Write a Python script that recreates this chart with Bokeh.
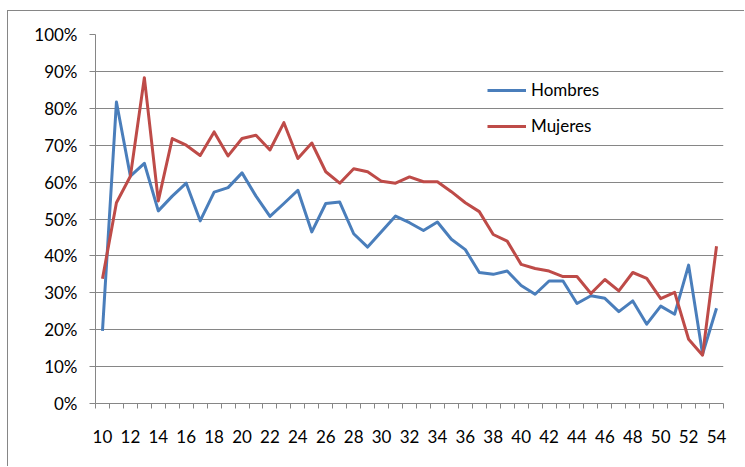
from bokeh.plotting import figure
from bokeh.models import (ColumnDataSource, FixedTicker, NumeralTickFormatter, Legend,
                          LegendItem, Range1d)
from bokeh.embed import file_html
from bokeh.resources import INLINE

ages = [10, 11, 12, 13, 14, 15, 16, 17, 18, 19, 20, 21, 22, 23, 24, 25, 26, 27, 28, 29,
        30, 31, 32, 33, 34, 35, 36, 37, 38, 39, 40, 41, 42, 43, 44, 45, 46, 47, 48, 49,
        50, 51, 52, 53, 54]
hombres = [0.197, 0.817, 0.616, 0.651, 0.522, 0.562, 0.597, 0.495, 0.573, 0.585,
           0.625, 0.562, 0.507, 0.542, 0.578, 0.465, 0.542, 0.546, 0.460, 0.424,
           0.466, 0.508, 0.490, 0.469, 0.492, 0.445, 0.417, 0.355, 0.350, 0.359,
           0.320, 0.296, 0.332, 0.332, 0.271, 0.292, 0.285, 0.249, 0.278, 0.215,
           0.264, 0.242, 0.375, 0.134, 0.258]
mujeres = [0.338, 0.544, 0.616, 0.883, 0.549, 0.718, 0.700, 0.672, 0.736, 0.671,
           0.718, 0.727, 0.687, 0.761, 0.664, 0.706, 0.628, 0.597, 0.636, 0.628,
           0.602, 0.597, 0.614, 0.601, 0.601, 0.574, 0.544, 0.520, 0.458, 0.440,
           0.377, 0.366, 0.359, 0.344, 0.344, 0.298, 0.336, 0.305, 0.355, 0.339,
           0.284, 0.301, 0.174, 0.131, 0.426]
x_tick_labels = [10, 12, 14, 16, 18, 20, 22, 24, 26, 28, 30, 32, 34, 36, 38, 40, 42,
                 44, 46, 48, 50, 52, 54]
y_ticks = [0.0, 0.1, 0.2, 0.3, 0.4, 0.5, 0.6, 0.7, 0.8, 0.9, 1.0]
series_names = ["Hombres", "Mujeres"]
colors = ["#4A7EBB", "#BE4B48"]

FONT = "Lato"
FSIZE = "17px"
GRAY = "#868686"

src = ColumnDataSource(dict(x=ages, h=hombres, m=mujeres))

p = figure(width=737, height=456, output_backend="svg", toolbar_location=None,
           x_range=Range1d(ages[0] - 0.5, ages[-1] + 0.5), y_range=Range1d(0, 1),
           min_border_left=87, min_border_right=22, min_border_top=23, min_border_bottom=64)
p.styles = {"margin-left": "7px", "margin-top": "10px",
            "border-left": "1px solid #868686", "border-top": "1px solid #868686"}
p.outline_line_color = None
p.background_fill_color = "white"
p.border_fill_color = "white"

r1 = p.line("x", "h", source=src, line_color=colors[0], line_width=3, line_join="round")
r2 = p.line("x", "m", source=src, line_color=colors[1], line_width=3, line_join="round")

# x axis
boundaries = [a - 0.5 for a in ages] + [ages[-1] + 0.5]
p.xaxis.ticker = FixedTicker(ticks=x_tick_labels, minor_ticks=boundaries)
p.xaxis.major_tick_out = 0
p.xaxis.major_tick_in = 0
p.xaxis.minor_tick_out = 5
p.xaxis.minor_tick_in = 0
p.xaxis.minor_tick_line_color = GRAY
p.xaxis.axis_line_color = GRAY
p.xaxis.major_label_standoff = 21
p.xaxis.major_label_text_font = FONT
p.xaxis.major_label_text_font_size = FSIZE
p.xaxis.major_label_text_color = "black"
p.xgrid.grid_line_color = None

# y axis
p.yaxis.ticker = FixedTicker(ticks=y_ticks)
p.yaxis.formatter = NumeralTickFormatter(format="0%")
p.yaxis.major_tick_out = 6
p.yaxis.major_tick_in = 0
p.yaxis.minor_tick_line_color = None
p.yaxis.major_tick_line_color = GRAY
p.yaxis.axis_line_color = GRAY
p.yaxis.major_label_standoff = 12
p.yaxis.major_label_text_font = FONT
p.yaxis.major_label_text_font_size = FSIZE
p.yaxis.major_label_text_color = "black"
p.ygrid.grid_line_color = GRAY
p.ygrid.grid_line_width = 1

legend = Legend(items=[LegendItem(label=series_names[0], renderers=[r1]),
                       LegendItem(label=series_names[1], renderers=[r2])],
                location=(392, 267), orientation="vertical")
legend.padding = 0
legend.margin = 0
legend.spacing = 15
legend.glyph_width = 39
legend.glyph_height = 20
legend.label_height = 20
legend.label_standoff = 5
legend.label_text_font = FONT
legend.label_text_font_size = FSIZE
legend.label_text_color = "black"
legend.background_fill_color = None
legend.border_line_color = None
p.add_layout(legend)

open("out.html", "w").write(file_html(p, INLINE))
